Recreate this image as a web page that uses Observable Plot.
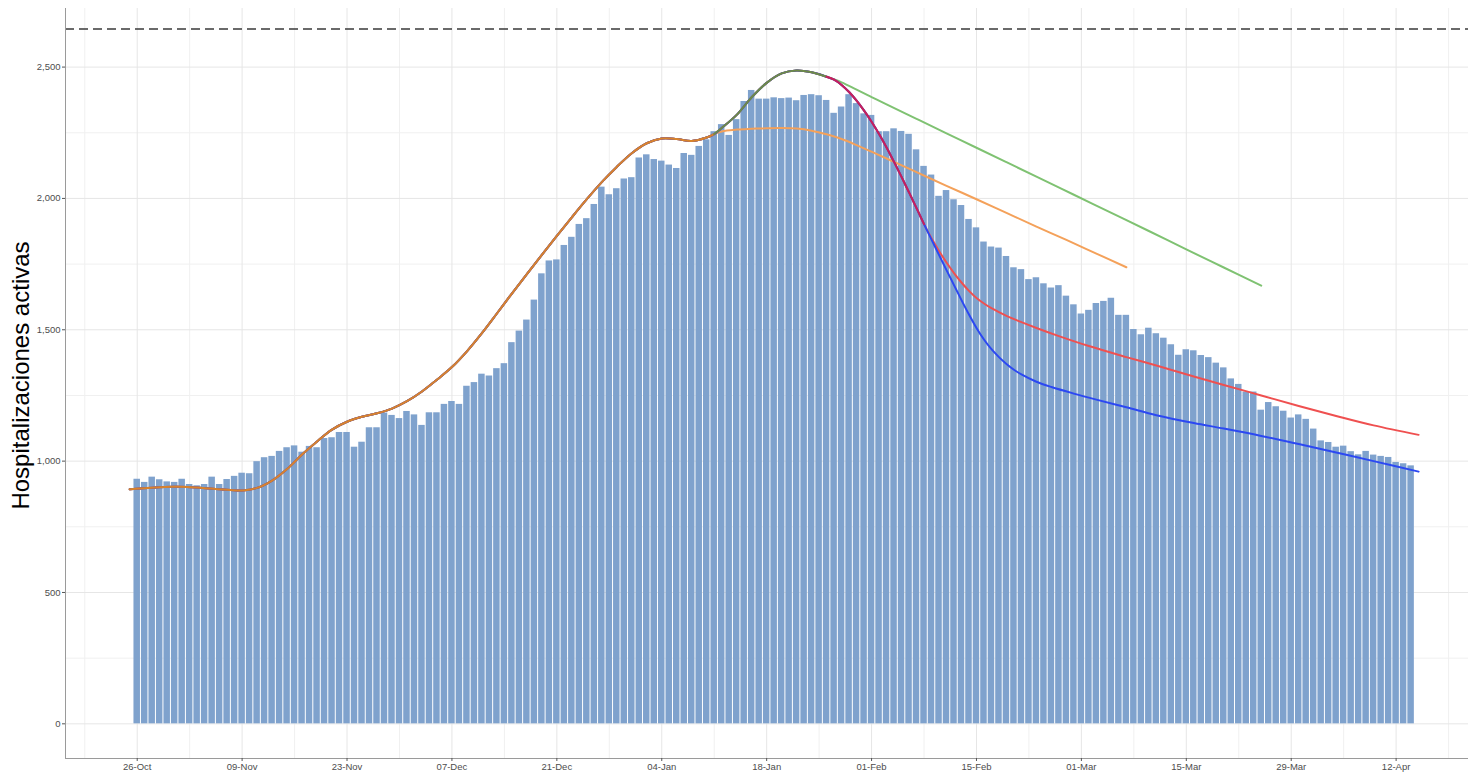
<!DOCTYPE html>
<html><head><meta charset="utf-8">
<script src="https://cdn.jsdelivr.net/npm/d3@7"></script>
<script src="https://cdn.jsdelivr.net/npm/@observablehq/plot@0.6"></script>
<style>
html,body{margin:0;padding:0;background:#fff;}
#chart{width:1468px;height:772px;}
</style></head><body><div id="chart"></div>
<script>
// ---------- DATA ----------
const fechaInicio = "2020-10-26";   // first bar
const hospitalizaciones = [
 931,919,939,929,921,919,931,911,906,911,939,911,930,942,954,952,998,1013,1018,1037,
 1051,1058,1034,1056,1051,1086,1089,1109,1109,1053,1072,1127,1127,1183,1174,1162,1189,1176,1136,1184,
 1184,1216,1227,1216,1285,1299,1331,1324,1352,1371,1451,1495,1537,1613,1713,1762,1766,1821,1852,1901,
 1923,1977,2043,2014,2037,2074,2079,2154,2166,2148,2142,2127,2114,2171,2164,2198,2223,2254,2281,2240,
 2300,2369,2411,2378,2378,2383,2380,2382,2372,2392,2395,2391,2373,2324,2348,2395,2361,2322,2316,2254,
 2254,2265,2255,2244,2185,2122,2089,2008,2030,1995,1973,1920,1888,1834,1815,1811,1779,1736,1729,1691,
 1698,1675,1659,1668,1628,1595,1560,1574,1600,1608,1620,1555,1555,1501,1481,1506,1485,1468,1443,1403,
 1424,1420,1402,1394,1373,1355,1313,1292,1263,1263,1194,1223,1207,1190,1164,1176,1159,1122,1077,1071,
 1053,1057,1036,1024,1037,1023,1018,1014,995,990,982
];
const xTickLabels = ["2020-10-26","2020-11-09","2020-11-23","2020-12-07","2020-12-21","2021-01-04",
  "2021-01-18","2021-02-01","2021-02-15","2021-03-01","2021-03-15","2021-03-29","2021-04-12"];
const xMinorGrid = ["2020-10-19","2020-11-02","2020-11-16","2020-11-30","2020-12-14","2020-12-28",
  "2021-01-11","2021-01-25","2021-02-08","2021-02-22","2021-03-08","2021-03-22","2021-04-05","2021-04-19"];
const yTicks = [0, 500, 1000, 1500, 2000, 2500];
const yMinorGrid = [250, 750, 1250, 1750, 2250];
const capacidad = 2645;
const yLabel = "Hospitalizaciones activas";

// curves: [days since fechaInicio, value]
const tramoComun = [[-1,893],[2,899],[5,902],[8,900],[11,893],[14,888],[16,898],[18,926],[20,970],
  [22,1025],[24,1075],[26,1120],[28,1150],[30,1169],[32,1182],[34,1200],[36,1228],[38,1265],[40,1310],
  [42,1358],[44,1418],[46,1487],[48,1562],[50,1638],[52,1712],[54,1785],[56,1857],[58,1928],[60,1997],
  [62,2062],[64,2120],[66,2172],[68,2210],[70,2228],[72,2226],[74,2219],[76,2232],[77,2245]];
const tramoAlto = [[78,2268],[80,2318],[82,2385],[84,2440],[86,2476],[88,2487],[90,2480],[92,2463]];
const tramoRojoAzul = [[93,2452],[94,2432],[95,2405],[96,2372],[97,2334],[98,2292],[99,2245],[100,2194],
  [101,2139],[102,2082],[103,2023],[104,1963],[105,1902]];
const escenarioNaranja = [[78,2255],[80,2262],[82,2265],[84,2267],[86,2268],[88,2266],[90,2258],[92,2244],
  [94,2226],[96,2203],[98,2178],[100,2152],[104,2100],[108,2048],[112,1997],[116,1945],[120,1893],
  [124,1842],[128,1790],[132,1738]];
const escenarioVerde = [[94,2442],[96,2414],[98,2386],[100,2358],[104,2303],[108,2248],[112,2193],
  [116,2138],[120,2083],[125,2014],[130,1945],[135,1876],[140,1806],[145,1737],[150,1668]];
const escenarioRojo = [[106,1848],[107,1800],[108,1756],[109,1716],[110,1680],[111,1648],[112,1621],
  [113,1600],[114,1582],[116,1553],[118,1529],[120,1507],[123,1476],[127,1438],[132,1396],[136,1364],
  [141,1322],[145,1290],[150,1250],[155,1210],[160,1172],[165,1136],[171,1100]];
const escenarioAzul = [[106,1843],[107,1785],[108,1727],[109,1670],[110,1613],[111,1558],[112,1507],
  [113,1463],[114,1426],[115,1396],[116,1370],[117,1348],[118,1330],[120,1302],[122,1282],[125,1257],
  [128,1234],[132,1205],[136,1175],[141,1145],[145,1124],[150,1096],[155,1065],[160,1033],[165,1000],[171,960]];

const colores = {
  comun: "#d9832b", alto: "#6e8a48", rojoAzul: "#c8205a",
  naranja: "#f4a15a", verde: "#7fc272", rojo: "#ef5050", azul: "#2c48f2",
  barras: "#7fa2cd"
};

// ---------- BUILD ----------
const DAY = 864e5;
const t0 = Date.parse(fechaInicio + "T00:00:00Z");
const toDate = d => new Date(t0 + d * DAY);
const bars = hospitalizaciones.map((v, i) => ({date: toDate(i), value: v}));
const pts = arr => arr.map(([d, v]) => ({date: toDate(d), value: v}));
const utc = s => new Date(s + "T00:00:00Z");

const lineNaranja = pts([...tramoComun, ...escenarioNaranja]);
const lineVerde = pts([...tramoComun, ...tramoAlto, ...escenarioVerde]);
const lineRojo = pts([...tramoComun, ...tramoAlto, ...tramoRojoAzul, ...escenarioRojo]);
const lineAzul = pts([...tramoComun, ...tramoAlto, ...tramoRojoAzul, ...escenarioAzul]);
const segComun = pts(tramoComun);
const segAlto = pts([tramoComun[tramoComun.length - 1], ...tramoAlto]);
const segRojoAzul = pts([tramoAlto[tramoAlto.length - 1], ...tramoRojoAzul]);

const xDomain = [new Date("2020-10-16T10:20:00Z"), new Date("2021-04-21T15:50:00Z")];
const yDomain = [-132, 2723];
const lineOpts = (stroke) => ({x: "date", y: "value", stroke, strokeWidth: 2, curve: "catmull-rom"});
const font = "Helvetica, Arial, 'Liberation Sans', sans-serif";

const chart = Plot.plot({
  width: 1468, height: 772,
  marginLeft: 65, marginRight: 0, marginTop: 8, marginBottom: 14,
  style: {fontFamily: font, fontSize: "10px", color: "#4d4d4d", background: "#fff", overflow: "visible"},
  x: {type: "utc", domain: xDomain},
  y: {domain: yDomain},
  marks: [
    Plot.gridX(xMinorGrid.map(utc), {stroke: "#f0f0f0", strokeOpacity: 1, strokeWidth: 1}),
    Plot.gridY(yMinorGrid, {stroke: "#f0f0f0", strokeOpacity: 1, strokeWidth: 1}),
    Plot.gridX(xTickLabels.map(utc), {stroke: "#e6e6e6", strokeOpacity: 1, strokeWidth: 1}),
    Plot.gridY(yTicks, {stroke: "#e6e6e6", strokeOpacity: 1, strokeWidth: 1}),
    Plot.rectY(bars, {
      x1: d => new Date(+d.date - DAY / 2), x2: d => new Date(+d.date + DAY / 2),
      y: "value", fill: colores.barras, insetLeft: 0.5, insetRight: 0.5
    }),
    Plot.line(lineNaranja, lineOpts(colores.naranja)),
    Plot.line(lineVerde, lineOpts(colores.verde)),
    Plot.line(lineRojo, lineOpts(colores.rojo)),
    Plot.line(lineAzul, lineOpts(colores.azul)),
    Plot.line(segComun, lineOpts(colores.comun)),
    Plot.line(segAlto, lineOpts(colores.alto)),
    Plot.line(segRojoAzul, lineOpts(colores.rojoAzul)),
    Plot.ruleY([capacidad], {stroke: "#3a3a3a", strokeWidth: 1.5, strokeDasharray: "9,5"}),
    Plot.ruleX([xDomain[0]], {stroke: "#9a9a9a", strokeWidth: 1}),
    Plot.ruleY([yDomain[0]], {stroke: "#9a9a9a", strokeWidth: 1}),
    Plot.axisX(xTickLabels.map(utc), {
      anchor: "bottom", tickFormat: d3.utcFormat("%d-%b"), tickSize: 3, tickPadding: 1.5,
      stroke: "#555", fill: "#4d4d4d", fontSize: 9.5, label: null
    }),
    Plot.axisY(yTicks, {
      anchor: "left", tickFormat: d3.format(","), tickSize: 3, tickPadding: 2,
      stroke: "#555", fill: "#4d4d4d", fontSize: 9.5, label: null
    }),
    Plot.text([yLabel], {
      text: d => d, frameAnchor: "left", dx: -44, dy: -8, rotate: -90,
      textAnchor: "middle", lineAnchor: "middle",
      fontSize: 24, fill: "#000", fontFamily: font
    })
  ]
});
document.getElementById("chart").appendChild(chart);
</script>
</body></html>
